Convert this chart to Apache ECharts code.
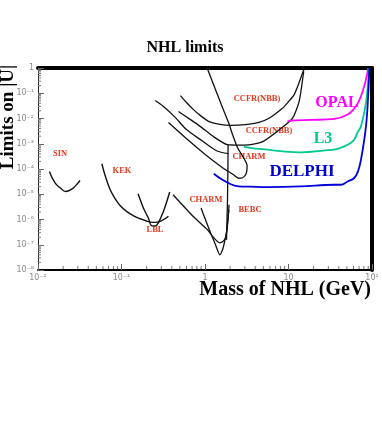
<!DOCTYPE html>
<html><head><meta charset="utf-8">
<script src="https://cdn.jsdelivr.net/npm/echarts@6/dist/echarts.min.js"></script>
<style>html,body{margin:0;padding:0;background:#fff}#c{width:382px;height:436px}</style>
</head><body><div id="c"></div>
<script>
// ---- data (mass in GeV, |U|^2 limit) ----
const sinCurve = [[0.0137,8e-5],[0.016,2.8e-5],[0.0184,1.8e-5],[0.0215,1.29e-5],[0.0254,1.6e-5],[0.0286,2.3e-5],[0.0319,3.5e-5]];
const kekCurve = [[0.0582,1.62e-4],[0.0638,5.4e-5],[0.0733,1.5e-5],[0.0841,6.6e-6],[0.0966,3.5e-6],[0.117,2.0e-6],[0.14,1.4e-6],[0.168,1.07e-6],[0.202,8.5e-7],[0.24,7.7e-7],[0.276,8.1e-7],[0.316,9.7e-7],[0.365,1.34e-6]];
const lblCurve = [[0.158,1.05e-5],[0.173,4.6e-6],[0.187,2.43e-6],[0.209,1.17e-6],[0.232,5.6e-7],[0.254,5.6e-7],[0.28,8.1e-7],[0.316,2.0e-6],[0.345,4.6e-6],[0.378,1.22e-5]];
const charmLower = [[0.415,9.55e-6],[0.508,4.6e-6],[0.728,1.28e-6],[1.072,3.9e-7],[1.276,1.88e-7],[1.493,1.19e-7],[1.622,1.3e-7],[1.762,1.88e-7],[1.862,6.2e-7],[1.941,3.83e-6]];
const bebcCurve = [[0.897,2.83e-6],[1.014,9.7e-7],[1.165,2.96e-7],[1.337,9.9e-8],[1.505,4.0e-8],[1.622,6.3e-8],[1.714,1.3e-7],[1.811,3.25e-7],[1.93,2.43e-6]];
const charmEdge = [[1.89,9.2e-4],[1.88,9.4e-5],[1.86,6.05e-6],[1.81,1.56e-7]];
const charmDiag = [[0.254,0.0513],[0.318,0.0297],[0.443,0.01086],[0.6,0.00363],[0.883,0.00146],[1.374,5.3e-4],[1.914,4.05e-4]];
const charmUpper = [[0.365,0.00688],[0.617,0.00146],[1.014,3.69e-4],[1.622,1.13e-4],[2.198,5.9e-5],[2.525,4.3e-5],[2.818,4.5e-5],[3.107,6.5e-5],[3.196,1.35e-4],[2.9,2.8e-4],[2.455,7.0e-4],[2.139,0.0023],[1.914,0.00688],[1.535,0.0428],[1.265,0.221],[1.062,1.0]];
const ccfrUpper = [[0.508,0.081],[0.6,0.0428],[0.728,0.0225],[0.883,0.013],[1.102,0.00774],[1.452,0.006],[2.023,0.00537],[3.063,0.00573],[4.43,0.00707],[5.84,0.0102],[8.46,0.0254],[9.79,0.0428],[11.66,0.0865],[13.28,0.243],[14.96,0.726],[15.4,0.87]];
const ccfrLower = [[0.481,0.0188],[0.67,0.00904],[0.883,0.00477],[1.265,0.00191],[1.849,9.2e-4],[2.667,8.8e-4],[3.52,9.2e-4],[4.91,0.00121],[7.7,0.00353],[11.15,0.0102],[13.4,0.0469],[15.2,0.726]];
const opalCurve = [[9.71,0.00774],[11.66,0.0085],[18.5,0.0088],[35.2,0.00964],[51.1,0.0143],[64.2,0.0305],[73.8,0.076],[84.7,0.35],[90.3,1.0]];
const l3Curve = [[2.924,7.46e-4],[4.04,6.4e-4],[5.58,5.83e-4],[8.07,5.08e-4],[14.0,4.56e-4],[29.4,5.57e-4],[35.2,5.83e-4],[46.5,7.9e-4],[56.0,0.0011],[61.3,0.00146],[67.9,0.003],[73.8,0.0049],[84.7,0.0416],[90.3,0.35],[92.8,1.0]];
const delphiCurve = [[1.276,6.5e-5],[2.547,2.04e-5],[3.52,1.99e-5],[5.58,1.93e-5],[14.0,2.04e-5],[35.2,2.38e-5],[42.4,2.38e-5],[51.1,3.2e-5],[61.3,4.4e-5],[67.9,8e-5],[73.8,2.34e-4],[84.7,0.0049],[90.3,0.104],[92.8,1.0]];

const X_MIN = 0.01, X_MAX = 100, Y_MIN = 1e-8, Y_MAX = 1;
const minorMult = [2,3,4,5,6,7,8,9];
const xDecades = [0.01,0.1,1,10];
const yDecades = [1e-8,1e-7,1e-6,1e-5,1e-4,1e-3,1e-2,1e-1];
const minorXTicks = [].concat(...xDecades.map(d => minorMult.map(m => d*m)));
const minorYTicks = [].concat(...yDecades.map(d => minorMult.map(m => d*m)));

const SUP = {'-':'⁻','0':'⁰','1':'¹','2':'²','3':'³','4':'⁴','5':'⁵','6':'⁶','7':'⁷','8':'⁸','9':'⁹'};
function powLabel(v){
  const e = Math.round(Math.log10(v));
  if (e === 0) return '1';
  if (e === 1) return '10';
  return '10' + String(e).split('').map(c => SUP[c]).join('');
}

const chart = echarts.init(document.getElementById('c'), null, {renderer:'canvas'});
const serif = '"Liberation Serif","DejaVu Serif",serif';
const red = '#e2391f';

function curve(data, color, width, smooth){
  return {type:'line', data:data, showSymbol:false, symbol:'none', smooth:smooth, clip:true,
    lineStyle:{color:color, width:width}, silent:true, animation:false, z:3};
}

const option = {
  animation:false,
  backgroundColor:'#fff',
  grid:{left:38, right:10, top:68, bottom:166, containLabel:false},
  xAxis:[
    {type:'log', logBase:10, min:X_MIN, max:X_MAX, splitNumber:4, position:'bottom',
     axisLine:{lineStyle:{color:'#000', width:2}},
     axisTick:{inside:true, length:6, lineStyle:{color:'#666', width:1}},
     axisLabel:{formatter:powLabel, color:'#8a8a8a', fontSize:8, margin:4, fontFamily:'DejaVu Sans'},
     splitLine:{show:false}, minorTick:{show:false}},
    {type:'log', logBase:10, min:X_MIN, max:X_MAX, position:'top',
     axisLine:{lineStyle:{color:'#000', width:4}}, axisTick:{show:false}, axisLabel:{show:false}, splitLine:{show:false}}
  ],
  yAxis:[
    {type:'log', logBase:10, min:Y_MIN, max:Y_MAX, splitNumber:8, position:'left',
     axisLine:{lineStyle:{color:'#222', width:1}},
     axisTick:{inside:true, length:6, lineStyle:{color:'#666', width:1}},
     axisLabel:{formatter:powLabel, color:'#8a8a8a', fontSize:8, margin:4, fontFamily:'DejaVu Sans'},
     splitLine:{show:false}},
    {type:'log', logBase:10, min:Y_MIN, max:Y_MAX, position:'right',
     axisLine:{lineStyle:{color:'#000', width:4}}, axisTick:{show:false}, axisLabel:{show:false}, splitLine:{show:false}}
  ],
  series:[
    {type:'custom', silent:true, data:minorXTicks.map(v => [v, Y_MIN]),
     renderItem:function(params, api){
       const p = api.coord([api.value(0), Y_MIN]);
       return {type:'line', shape:{x1:p[0], y1:p[1]-1, x2:p[0], y2:p[1]-4}, style:{stroke:'#777', lineWidth:1}};
     }},
    {type:'custom', silent:true, data:minorYTicks.map(v => [X_MIN, v]),
     renderItem:function(params, api){
       const p = api.coord([X_MIN, api.value(1)]);
       return {type:'line', shape:{x1:p[0], y1:p[1], x2:p[0]+3, y2:p[1]}, style:{stroke:'#777', lineWidth:1}};
     }},
    curve(sinCurve, '#111', 1.4, 0.5),
    curve(kekCurve, '#111', 1.4, 0.4),
    curve(lblCurve, '#111', 1.4, 0.4),
    curve(charmLower, '#111', 1.3, 0.2),
    curve(bebcCurve, '#111', 1.3, 0.2),
    curve(charmEdge, '#111', 1.3, 0),
    curve(charmDiag, '#111', 1.3, 0.3),
    curve(charmUpper, '#111', 1.3, 0.25),
    curve(ccfrUpper, '#111', 1.3, 0.2),
    curve(ccfrLower, '#111', 1.3, 0.2),
    curve(opalCurve, '#ff00ff', 1.8, 0.4),
    curve(l3Curve, '#00c98e', 1.8, 0.4),
    curve(delphiCurve, '#0000dd', 1.8, 0.4)
  ],
  graphic:[
    {type:'text', left:null, x:185, y:48, style:{text:'NHL limits', font:'bold 16px '+serif, fill:'#000', textAlign:'center', textVerticalAlign:'middle'}},
    {type:'text', x:8, y:117, rotation:Math.PI/2, style:{text:'Limits on |U|', font:'bold 19px '+serif, fill:'#000', textAlign:'center', textVerticalAlign:'middle'}},
    {type:'text', x:371, y:290, style:{text:'Mass of NHL (GeV)', font:'bold 20px '+serif, fill:'#000', textAlign:'right', textVerticalAlign:'middle'}},
    {type:'text', x:60, y:154, style:{text:'SIN', font:'bold 8.5px '+serif, fill:red, textAlign:'center', textVerticalAlign:'middle'}},
    {type:'text', x:122, y:171, style:{text:'KEK', font:'bold 8.5px '+serif, fill:red, textAlign:'center', textVerticalAlign:'middle'}},
    {type:'text', x:155, y:230, style:{text:'LBL', font:'bold 8.5px '+serif, fill:red, textAlign:'center', textVerticalAlign:'middle'}},
    {type:'text', x:206, y:200, style:{text:'CHARM', font:'bold 8.5px '+serif, fill:red, textAlign:'center', textVerticalAlign:'middle'}},
    {type:'text', x:250, y:210, style:{text:'BEBC', font:'bold 8.5px '+serif, fill:red, textAlign:'center', textVerticalAlign:'middle'}},
    {type:'text', x:249, y:157, style:{text:'CHARM', font:'bold 8.5px '+serif, fill:red, textAlign:'center', textVerticalAlign:'middle'}},
    {type:'text', x:257, y:99, style:{text:'CCFR(NBB)', font:'bold 8.5px '+serif, fill:red, textAlign:'center', textVerticalAlign:'middle'}},
    {type:'text', x:269, y:131, style:{text:'CCFR(NBB)', font:'bold 8.5px '+serif, fill:red, textAlign:'center', textVerticalAlign:'middle'}},
    {type:'text', x:337, y:103, style:{text:'OPAL', font:'bold 16px '+serif, fill:'#ff00ff', textAlign:'center', textVerticalAlign:'middle'}},
    {type:'text', x:323, y:139, style:{text:'L3', font:'bold 16px '+serif, fill:'#00c98e', textAlign:'center', textVerticalAlign:'middle'}},
    {type:'text', x:302, y:172, style:{text:'DELPHI', font:'bold 17px '+serif, fill:'#0000cc', textAlign:'center', textVerticalAlign:'middle'}}
  ]
};
chart.setOption(option);
</script>
</body></html>
